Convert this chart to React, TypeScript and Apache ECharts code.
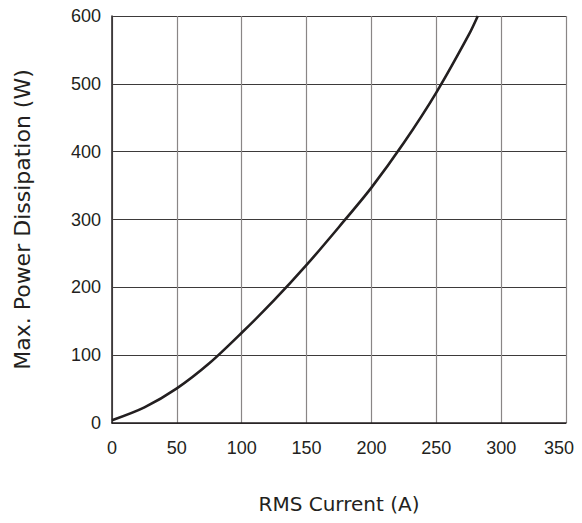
import React, { useEffect, useRef } from "react";
import * as echarts from "echarts";

const currentA = [0, 25, 50, 75, 100, 125, 150, 175, 200, 225, 250, 275, 282];
const powerW = [4, 23, 51, 88, 133, 181, 233, 289, 347, 413, 487, 572, 600];
const xTicks = [0, 50, 100, 150, 200, 250, 300, 350];
const yTicks = [0, 100, 200, 300, 400, 500, 600];

const xTitle = "RMS Current (A)";
const yTitle = "Max. Power Dissipation (W)";

export default function App() {
  const ref = useRef<HTMLDivElement>(null);
  useEffect(() => {
    if (!ref.current) return;
    const chart = echarts.init(ref.current, undefined, { renderer: "svg" });
    const data = currentA.map((x, i) => [x, powerW[i]]);
    const labelFont = { fontFamily: "Liberation Sans", fontSize: 18, color: "#231f20" };
    const xMax = xTicks[xTicks.length - 1];
    chart.setOption({
      animation: false,
      backgroundColor: "#ffffff",
      grid: { left: 112, right: 16, top: 16, bottom: 100 },
      xAxis: {
        type: "value",
        min: xTicks[0],
        max: xMax,
        interval: 50,
        name: xTitle,
        nameLocation: "middle",
        nameGap: 71,
        nameTextStyle: { fontFamily: "DejaVu Sans", fontSize: 20, color: "#231f20" },
        axisLine: { show: true, lineStyle: { color: "#231f20", width: 1.5 } },
        axisTick: { show: false },
        axisLabel: {
          margin: 16,
          ...labelFont,
          formatter: (v: number) => (v === xMax ? `{m|${v}}` : `${v}`),
          rich: { m: { ...labelFont, padding: [0, 14, 0, 0] } },
        },
        splitLine: { show: true, lineStyle: { color: "#8a8686", width: 1.2 } },
      },
      yAxis: {
        type: "value",
        min: yTicks[0],
        max: yTicks[yTicks.length - 1],
        interval: 100,
        name: yTitle,
        nameLocation: "middle",
        nameGap: 79,
        nameRotate: 90,
        nameTextStyle: { fontFamily: "DejaVu Sans", fontSize: 22, color: "#231f20" },
        axisLine: { show: true, lineStyle: { color: "#231f20", width: 1.5 } },
        axisTick: { show: false },
        axisLabel: { margin: 11, ...labelFont },
        splitLine: { show: true, lineStyle: { color: "#3d3a3a", width: 1.2 } },
      },
      series: [
        {
          type: "line",
          data,
          smooth: 0.3,
          showSymbol: false,
          lineStyle: { color: "#231f20", width: 2.6 },
          z: 5,
        },
      ],
    });
    return () => chart.dispose();
  }, []);
  return (
    <div
      ref={ref}
      style={{ width: 582, height: 523, margin: -8, overflow: "hidden" }}
    />
  );
}
